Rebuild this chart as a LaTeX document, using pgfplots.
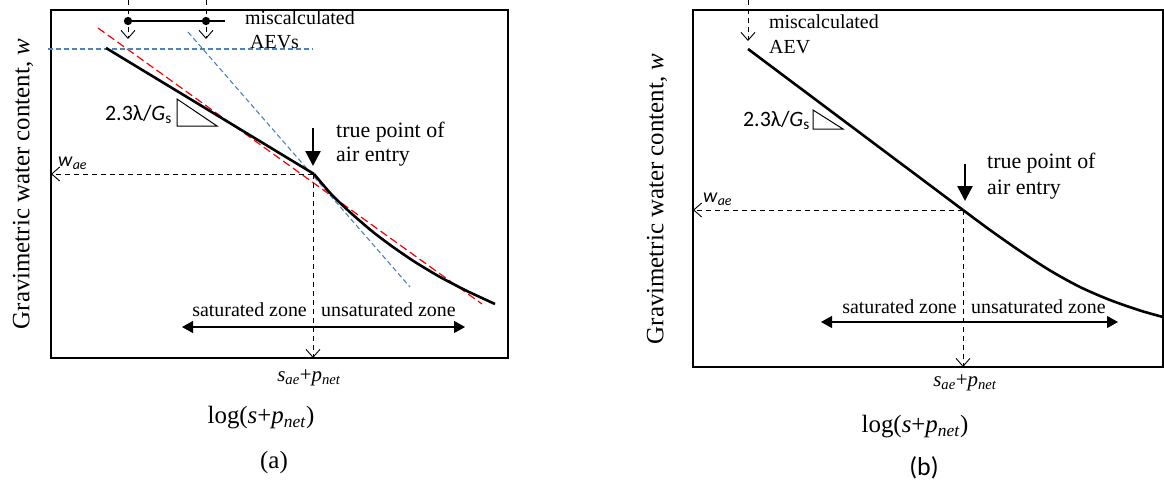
\documentclass[border=0pt]{standalone}
\usepackage{fontspec}
\setmainfont{Liberation Serif}
\newfontfamily\calfont{Carlito}
\usepackage{pgfplots}
\pgfplotsset{compat=1.18}
\usetikzlibrary{arrows.meta}
\newcommand\fs[1]{\fontsize{#1}{#1}\selectfont}

\definecolor{aevblue}{RGB}{79,129,189}

\pgfplotsset{
  sketch/.style={
    scale only axis, y dir=reverse, clip=false,
    xtick=\empty, ytick=\empty,
    axis line style={line width=1.3bp},
  },
}
\tikzset{
  curve/.style={line width=2.6bp, black},
  guide/.style={line width=0.9bp, dash pattern=on 5bp off 4bp,
    -{Straight Barb[length=8bp,width=14bp,line width=0.9bp]}},
  zone/.style={line width=1.2bp,
    {Triangle[length=11bp,width=12bp]}-{Triangle[length=11bp,width=12bp]}},
  entry/.style={line width=2.6bp, -{Triangle[length=15bp,width=15bp]}},
}

\begin{document}
\begin{tikzpicture}
\path[use as bounding box] (0,0) rectangle (1164bp,486bp);

% ---------------- (a)
\begin{axis}[sketch, width=457bp, height=348bp,
  xmin=51, xmax=508, ymin=10, ymax=358,
  at={(51bp,128bp)}, anchor=south west]

  % fitted lines
  \addplot[red, line width=1.2bp, dash pattern=on 8bp off 4bp] coordinates {(98,28) (482,304)};
  \addplot[aevblue, line width=1.1bp, dash pattern=on 5bp off 3bp] coordinates {(188,32) (410,287)};
  \addplot[aevblue, line width=1.1bp, dash pattern=on 5bp off 3bp] coordinates {(48,49) (313,49)};

  % water retention curve
  \addplot[curve] coordinates {(106,48) (314,174)};
  \addplot[curve, smooth, tension=0.4] coordinates {
    (314,174) (332,195) (352,214) (373,232) (393,247)
    (415,262) (440,277) (467,291) (495,304)};

  % miscalculated AEVs
  \addplot[line width=1.2bp, mark=*, mark size=3.5bp, mark indices={1,2}]
    coordinates {(128,21) (206,21) (225,21)};
  \addplot[guide] coordinates {(128,0) (128,39)};
  \addplot[guide] coordinates {(206,0) (206,39)};
  \node[anchor=west, inner sep=0, font=\fs{20}] at (245,18) {miscalculated};
  \node[anchor=west, inner sep=0, font=\fs{20}] at (250,42) {AEVs};

  % slope
  \draw[line width=1bp] (177,99) -- (177,126) -- (217,126) -- cycle;
  \node[anchor=east, inner sep=0, font=\calfont\fs{22}] at (172,114) {2.3λ/\textit{G}\textsubscript{s}};

  % air entry
  \draw[entry] (313,128) -- (313,166);
  \node[anchor=west, inner sep=0, font=\fs{22}] at (336,132) {true point of};
  \node[anchor=west, inner sep=0, font=\fs{22}] at (336,157) {air entry};
  \addplot[guide] coordinates {(313,174) (51,174)};
  \addplot[guide] coordinates {(313,174) (313,358)};
  \node[anchor=west, inner sep=0, font=\calfont\fs{20}] at (58,163) {\textit{w}\textsubscript{\textit{ae}}};

  % zones
  \draw[zone] (182,327) -- (465,327);
  \node[anchor=east, inner sep=0, font=\fs{20}] at (307,310) {saturated zone};
  \node[anchor=west, inner sep=0, font=\fs{20}] at (321,310) {unsaturated zone};

  % labels
  \node[font=\fs{21}] at (309,378) {\textit{s}\textsubscript{\textit{ae}}+\textit{p}\textsubscript{\textit{net}}};
  \node[font=\fs{25}] at (261,418) {log(\textit{s}+\textit{p}\textsubscript{\textit{net}})};
  \node[font=\fs{25}] at (274,463) {(a)};
  \node[rotate=90, font=\fs{25}] at (23,184) {Gravimetric water content, \textit{w}};
\end{axis}

% ---------------- (b)
\begin{axis}[sketch, width=470bp, height=357bp,
  xmin=693, xmax=1163, ymin=10, ymax=367,
  at={(693bp,119bp)}, anchor=south west]

  \addplot[curve] coordinates {(748,49) (963,210)};
  \addplot[curve, smooth, tension=0.5] coordinates {
    (963,210) (990,230) (1020,251) (1050,270.5) (1080,287)
    (1110,300) (1140,310.5) (1163,317)};

  \addplot[guide] coordinates {(748,0) (748,41)};
  \node[anchor=west, inner sep=0, font=\fs{20}] at (769,22) {miscalculated};
  \node[anchor=west, inner sep=0, font=\fs{20}] at (769,47) {AEV};

  \draw[line width=1bp] (813,110) -- (813,129) -- (843,129) -- cycle;
  \node[anchor=east, inner sep=0, font=\calfont\fs{22}] at (810,120) {2.3λ/\textit{G}\textsubscript{s}};

  \draw[entry] (965,164) -- (965,201);
  \node[anchor=west, inner sep=0, font=\fs{22}] at (987,163) {true point of};
  \node[anchor=west, inner sep=0, font=\fs{22}] at (987,190) {air entry};
  \addplot[guide] coordinates {(963,210) (693,210)};
  \addplot[guide] coordinates {(963,210) (963,367)};
  \node[anchor=west, inner sep=0, font=\calfont\fs{20}] at (703,199) {\textit{w}\textsubscript{\textit{ae}}};

  \draw[zone] (821,322) -- (1118,322);
  \node[anchor=east, inner sep=0, font=\fs{20}] at (957,307) {saturated zone};
  \node[anchor=west, inner sep=0, font=\fs{20}] at (971,307) {unsaturated zone};

  \node[font=\fs{21}] at (965,383) {\textit{s}\textsubscript{\textit{ae}}+\textit{p}\textsubscript{\textit{net}}};
  \node[font=\fs{25}] at (915,427) {log(\textit{s}+\textit{p}\textsubscript{\textit{net}})};
  \node[font=\calfont\fs{26}] at (924,468) {(b)};
  \node[rotate=90, font=\fs{25}] at (657,199) {Gravimetric water content, \textit{w}};
\end{axis}
\end{tikzpicture}
\end{document}
